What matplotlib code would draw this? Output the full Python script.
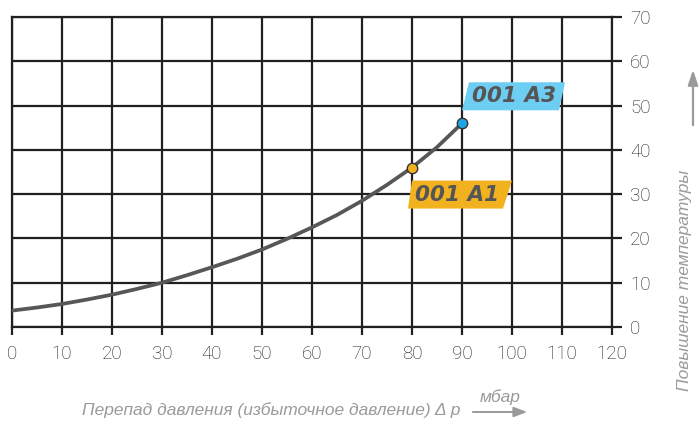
import matplotlib
matplotlib.use('Agg')
import matplotlib.pyplot as plt
import matplotlib.transforms as mtransforms
from matplotlib.patches import Polygon, FancyArrowPatch

# curve (pressure mbar -> temperature rise)
pressure = [0, 5, 10, 15, 20, 25, 30, 35, 40, 45, 50, 55, 60, 65, 70, 75, 80, 85, 90]
temp_rise = [3.7, 4.4, 5.2, 6.2, 7.3, 8.6, 10.0, 11.7, 13.5, 15.4, 17.5, 19.9, 22.5,
             25.3, 28.5, 32.1, 36.0, 40.6, 46.0]

# marked models
model_names = ['001 A1', '001 A3']
model_x = [80, 90]
model_y = [36, 46]
dot_colors = ['#f2b11f', '#1ea6e4']
box_colors = ['#f2b11f', '#6dcdf2']

x_ticks = list(range(0, 121, 10))
y_ticks = list(range(0, 71, 10))

plt.rcParams['font.family'] = ['Liberation Sans', 'DejaVu Sans']

fig = plt.figure(figsize=(6.99, 4.23), dpi=100)
ax = fig.add_axes([12 / 699, 1 - 327 / 423, 600 / 699, 310 / 423])

grid_col = '#231f20'
ax.set_xlim(0, 120)
ax.set_ylim(0, 70)
ax.set_xticks(x_ticks)
ax.set_yticks(y_ticks)
ax.grid(True, color=grid_col, linewidth=1.6, zorder=1)
for s in ax.spines.values():
    s.set_color(grid_col)
    s.set_linewidth(1.6)
ax.yaxis.tick_right()
ax.tick_params(axis='y', direction='out', length=7, width=1.6, color=grid_col, pad=6)
ax.tick_params(axis='x', direction='out', length=6, width=1.6, color=grid_col, pad=7)
for lab in ax.get_xticklabels() + ax.get_yticklabels():
    lab.set_family(['Roboto', 'DejaVu Sans'])
    lab.set_fontweight('light')
    lab.set_fontsize(13.5)
    lab.set_color('#1e1e1e')
ax.set_axisbelow(True)

ax.plot(pressure, temp_rise, color='#575757', linewidth=2.7, solid_capstyle='round', zorder=3)

# label boxes (parallelograms), offsets in pixels from the marked point
box_shapes = [
    [(0, -13), (100, -13), (91, -41), (-4, -41)],
    [(0, 13), (7, 41), (103, 41), (97, 13)],
]
text_offsets = [(45, -27), (52, 27)]

for name, mx, my, dc, bc, shape, toff in zip(model_names, model_x, model_y, dot_colors,
                                              box_colors, box_shapes, text_offsets):
    trans = fig.dpi_scale_trans + mtransforms.ScaledTranslation(mx, my, ax.transData)
    verts = [(px / 100, py / 100) for px, py in shape]
    poly = Polygon(verts, closed=True, facecolor=bc, edgecolor='none',
                   transform=trans, zorder=4, clip_on=False)
    ax.add_patch(poly)
    ax.text(toff[0] / 100, toff[1] / 100, name, transform=trans, ha='center', va='center',
            fontsize=15.5, fontweight='bold', fontstyle='italic', color='#555555',
            family='DejaVu Sans', zorder=5)
    ax.plot([mx], [my], 'o', markersize=7.5, markerfacecolor=dc,
            markeredgecolor='#333333', markeredgewidth=1.0, zorder=6, clip_on=False)

label_col = '#9a9a9a'
fig.text(82 / 699, 1 - 410 / 423, 'Перепад давления (избыточное давление) Δ p',
         ha='left', va='center', fontsize=12.5, fontstyle='italic', color=label_col)
fig.text(500 / 699, 1 - 397 / 423, 'мбар', ha='center', va='center',
         fontsize=12.5, fontstyle='italic', color=label_col)
fig.patches.append(FancyArrowPatch(
    (470 / 699, 1 - 412 / 423), (530 / 699, 1 - 412 / 423), transform=fig.transFigure,
    arrowstyle='-|>,head_length=8,head_width=3', color=label_col, linewidth=1.4))

fig.text(684 / 699, 1 - 280 / 423, 'Повышение температуры', rotation=90,
         ha='center', va='center', fontsize=12.5, fontstyle='italic', color=label_col)
fig.patches.append(FancyArrowPatch(
    (693 / 699, 1 - 128 / 423), (693 / 699, 1 - 67 / 423), transform=fig.transFigure,
    arrowstyle='-|>,head_length=9,head_width=3', color=label_col, linewidth=1.6))

fig.savefig('out.png', dpi=100)
